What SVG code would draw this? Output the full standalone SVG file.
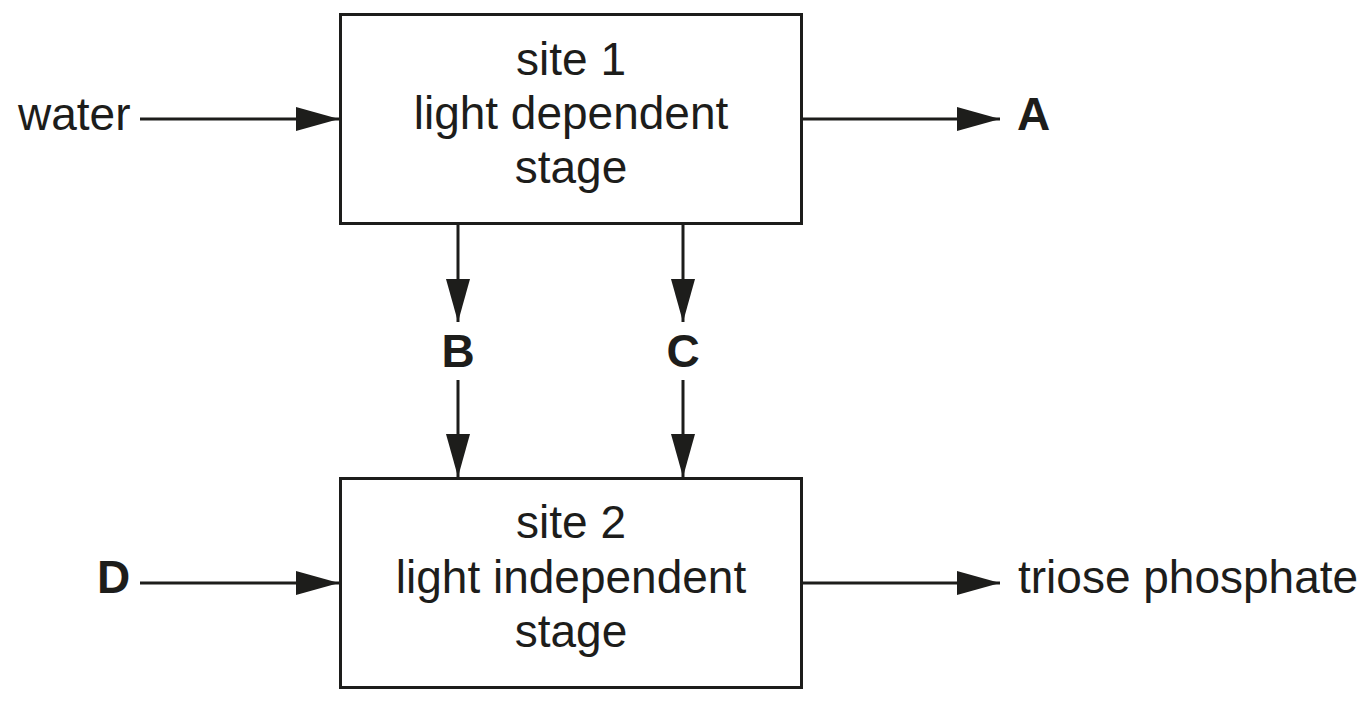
<svg xmlns="http://www.w3.org/2000/svg" width="1372" height="708" viewBox="0 0 1372 708">
<style>
  .box { fill: #ffffff; stroke: #1d1d1b; stroke-width: 3; }
  .conn { stroke: #1d1d1b; stroke-width: 3; fill: none; }
  .t { font-family: "Liberation Sans", Arial, sans-serif; font-size: 46px; fill: #1d1d1b; }
  .c { text-anchor: middle; }
  .b { font-weight: bold; }
</style>
<defs>
  <marker id="ah" viewBox="0 0 43 24" refX="43" refY="12" markerWidth="43" markerHeight="24" markerUnits="userSpaceOnUse" orient="auto">
    <path d="M0,0 L43,12 L0,24 Z" fill="#1d1d1b"/>
  </marker>
</defs>
<rect width="1372" height="708" fill="#ffffff"/>
<g id="connectors">
  <line class="conn" x1="140" y1="119" x2="339" y2="119" marker-end="url(#ah)"/>
  <line class="conn" x1="802" y1="119" x2="1000" y2="119" marker-end="url(#ah)"/>
  <line class="conn" x1="458" y1="224" x2="458" y2="322" marker-end="url(#ah)"/>
  <line class="conn" x1="458" y1="380" x2="458" y2="477" marker-end="url(#ah)"/>
  <line class="conn" x1="683" y1="224" x2="683" y2="322" marker-end="url(#ah)"/>
  <line class="conn" x1="683" y1="380" x2="683" y2="477" marker-end="url(#ah)"/>
  <line class="conn" x1="140" y1="583" x2="339" y2="583" marker-end="url(#ah)"/>
  <line class="conn" x1="802" y1="583" x2="1000" y2="583" marker-end="url(#ah)"/>
</g>
<g id="site1">
  <rect class="box" x="340.5" y="14.5" width="461" height="209"/>
  <text class="t c" x="571" y="75">site 1</text>
  <text class="t c" x="571" y="129">light dependent</text>
  <text class="t c" x="571" y="183">stage</text>
</g>
<g id="site2">
  <rect class="box" x="340.5" y="478.5" width="461" height="209"/>
  <text class="t c" x="571" y="538">site 2</text>
  <text class="t c" x="571" y="593">light independent</text>
  <text class="t c" x="571" y="647">stage</text>
</g>
<g id="water"><text class="t" x="18" y="130">water</text></g>
<g id="A"><text class="t b" x="1017" y="130">A</text></g>
<g id="B"><text class="t b c" x="458" y="367">B</text></g>
<g id="C"><text class="t b c" x="683" y="367">C</text></g>
<g id="D"><text class="t b" x="97" y="593">D</text></g>
<g id="triose"><text class="t" x="1018" y="593">triose phosphate</text></g>
</svg>
